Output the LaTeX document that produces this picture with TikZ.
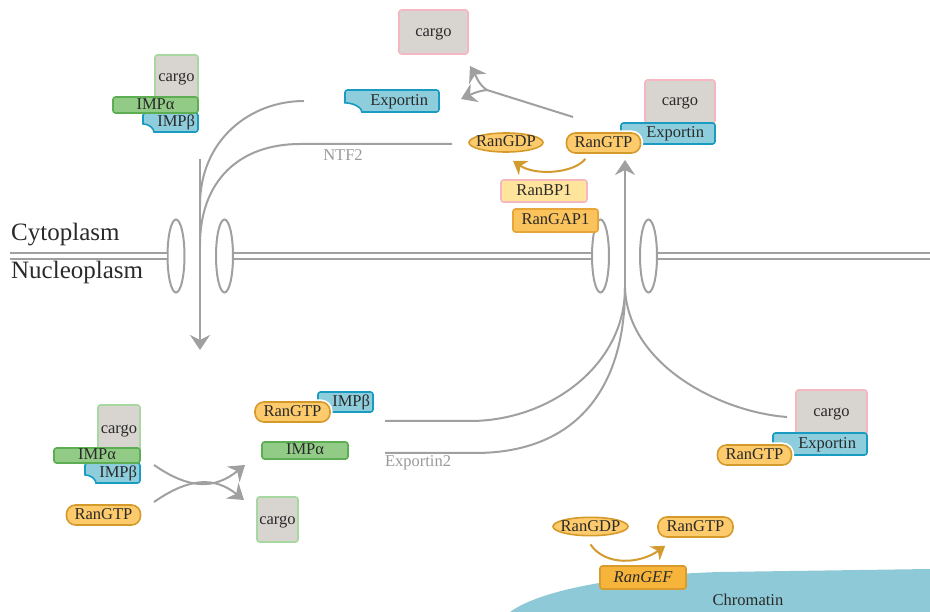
\documentclass[tikz,border=0pt]{standalone}
\usepackage{fontspec}
\setmainfont{Liberation Serif}
\usetikzlibrary{positioning,calc,arrows.meta,shapes.geometric}
\definecolor{ink}{HTML}{2A2A2A}
\definecolor{linegray}{HTML}{A0A0A0}
\definecolor{labelgray}{HTML}{9A9A9A}
\definecolor{cargogray}{HTML}{D8D5D1}
\definecolor{pinkline}{HTML}{F5B7C0}
\definecolor{greenpale}{HTML}{A6D89F}
\definecolor{greenfill}{HTML}{91CB86}
\definecolor{greenline}{HTML}{5DAE52}
\definecolor{cyanfill}{HTML}{8ECEDC}
\definecolor{cyanline}{HTML}{1A9BC2}
\definecolor{ranfill}{HTML}{FDCB6B}
\definecolor{ranline}{HTML}{D59A2C}
\definecolor{ranarrow}{HTML}{D39B2D}
\definecolor{bpfill}{HTML}{FFE59C}
\definecolor{gapfill}{HTML}{FBC35C}
\definecolor{gapline}{HTML}{E8A53A}
\definecolor{geffill}{HTML}{F6B43A}
\definecolor{gefline}{HTML}{D99A2E}
\definecolor{chromatin}{HTML}{8DC9D6}

% cut a concave notch into the lower left corner of a box
\newcommand{\notchcut}[4]{%
  \fill[white] ([shift={(-2pt,-2pt)}]#1.south west) -- ([shift={(-2pt,#4pt)}]#1.south west)
    -- ([yshift=#4pt]#1.south west)
    .. controls ([shift={(0.55*#3pt,#4pt)}]#1.south west) and ([shift={(#3pt,0.5*#4pt)}]#1.south west)
    .. ([xshift=#3pt]#1.south west) -- ([shift={(#3pt,-2pt)}]#1.south west) -- cycle;
  \draw[#2,line width=1.6pt] ([yshift=#4pt]#1.south west)
    .. controls ([shift={(0.55*#3pt,#4pt)}]#1.south west) and ([shift={(#3pt,0.5*#4pt)}]#1.south west)
    .. ([xshift=#3pt]#1.south west);}

\begin{document}
\begin{tikzpicture}[x=1pt,y=-1pt,
  font=\fontsize{16.5}{19}\selectfont,
  box/.style={rounded corners=2.5pt,line width=1.6pt,inner sep=0pt,text=ink,text height=11pt,text depth=2pt},
  cargo/.style={box,fill=cargogray},
  impa/.style={box,fill=greenfill,draw=greenline},
  cyanbox/.style={box,fill=cyanfill,draw=cyanline,align=right},
  ran/.style={box,fill=ranfill,draw=ranline,rounded corners=9pt,minimum width=74pt,minimum height=20pt},
  gdp/.style={ellipse,fill=ranfill,draw=ranline,line width=1.6pt,inner xsep=-4pt,inner ysep=0pt,
              minimum width=74pt,minimum height=19pt,text=ink,text height=11pt,text depth=2pt},
  halo/.style={preaction={draw=white,line width=5pt}},
  pore/.style={ellipse,draw=linegray,line width=2pt,minimum width=17pt,minimum height=73pt,inner sep=0pt},
  membrane/.style={draw=linegray,line width=2pt,double=white,double distance=4.5pt},
  flow/.style={draw=linegray,line width=2pt},
  arr/.style={flow,-{Stealth[length=15pt,width=20pt,inset=5pt]}},
  ranarr/.style={draw=ranarrow,line width=2pt,-{Stealth[length=13pt,width=17pt,inset=4pt]}},
  tag/.style={text=labelgray,inner sep=0pt}]
  \useasboundingbox (0,0) rectangle (930,612);

  % chromatin
  \fill[chromatin] (510,612) .. controls (540,590) and (620,575) .. (720,572) -- (930,569) -- (930,612) -- cycle;
  \node[text=ink] (chrom) at (748,600) {Chromatin};

  % envelope and pores
  \node[pore] (pl1) at (176,256) {};
  \node[pore] (pl2) at (224.5,256) {};
  \node[pore] (pr1) at (600.5,256) {};
  \node[pore] (pr2) at (648.5,256) {};
  \draw[membrane] (10,256) -- (pl1.west);
  \draw[membrane] (pl2.east) -- (pr1.west);
  \draw[membrane] (pr2.east) -- (930,256);
  \node[anchor=base west,inner sep=0pt,text=ink,font=\fontsize{25}{28}\selectfont] (cyto) at (11,241) {Cytoplasm};
  \node[anchor=base west,inner sep=0pt,text=ink,font=\fontsize{25}{28}\selectfont] (nucleo) at (11,279) {Nucleoplasm};

  % import route
  \coordinate (impin) at (200,159);
  \coordinate (impout) at (200,350);
  \coordinate (expback) at (304,101);
  \coordinate (ntfback) at (452,144);
  \coordinate (ntfbend) at (300,144);
  \coordinate (joinA) at (200,205);
  \coordinate (joinB) at (200,245);
  \draw[arr] (impin) -- (impout);
  \draw[flow] (expback) .. controls (250,101) and (200,140) .. (joinA);
  \draw[flow] (ntfback) -- (ntfbend) .. controls (240,144) and (200,180) .. (joinB);
  \node[tag] (ntf) at (343,155) {NTF2};

  % export route
  \coordinate (expin) at (625,288);
  \coordinate (exptip) at (625,160);
  \coordinate (recycA) at (385,421);
  \coordinate (bendA) at (470,421);
  \coordinate (recycB) at (385,453);
  \coordinate (bendB) at (475,453);
  \coordinate (expstart) at (787,417);
  \draw[arr] (expin) -- (exptip);
  \draw[flow] (recycA) -- (bendA) .. controls (550,421) and (625,365) .. (expin);
  \draw[flow] (recycB) -- (bendB) .. controls (575,453) and (625,390) .. (expin);
  \draw[flow] (expstart) .. controls (720,412) and (628,365) .. (expin);
  \node[tag] (exp2) at (418,463) {Exportin2};

  % release in the cytoplasm
  \coordinate (outstart) at (573,117);
  \coordinate (fork) at (487,90);
  \coordinate (tocargo) at (470,66);
  \coordinate (toexp) at (461,99);
  \draw[flow] (outstart) -- (fork);
  \draw[arr] (fork) .. controls (479,85) and (476,76) .. (tocargo);
  \draw[arr] (fork) .. controls (477,91) and (470,95) .. (toexp);

  % release in the nucleus
  \coordinate (mixA) at (154,465);
  \coordinate (mixB) at (154,502);
  \coordinate (outA) at (245,465);
  \coordinate (outB) at (244,500);
  \draw[arr] (mixA) .. controls (190,490) and (215,489) .. (outA);
  \draw[arr] (mixB) .. controls (190,477) and (215,477) .. (outB);

  % import complex, cytoplasm
  \node[cargo,draw=greenpale,minimum width=43pt,minimum height=45pt] (impcargo) at (176.5,77.5) {cargo};
  \node[cyanbox,text width=49pt,inner xsep=3pt,minimum height=19pt] (impbeta) at (170.5,122.5) {IMPβ};
  \notchcut{impbeta}{cyanline}{12}{9}
  \node[impa,minimum width=85pt,minimum height=16pt] (impalpha) at (155.5,105) {IMPα};

  % freed cargo, exportin, Ran cycle
  \node[cargo,draw=pinkline,minimum width=69pt,minimum height=44pt] (cargofree) at (433.5,32) {cargo};
  \node[cyanbox,text width=72pt,inner xsep=11pt,minimum height=22pt] (expfree) at (392,101) {Exportin};
  \notchcut{expfree}{cyanline}{18}{10}
  \node[gdp] (rangdp) at (506,142.5) {RanGDP};
  \node[cargo,draw=pinkline,minimum width=70pt,minimum height=43pt] (expcargo) at (680,101.5) {cargo};
  \node[cyanbox,text width=72pt,inner xsep=11pt,minimum height=21pt] (expbound) at (668,133.5) {Exportin};
  \node[ran,halo] (rangtp) at (603.5,143) {RanGTP};
  \node[box,fill=bpfill,draw=pinkline,minimum width=86pt,minimum height=22pt] (ranbp) at (544,191) {RanBP1};
  \node[box,fill=gapfill,draw=gapline,minimum width=85pt,minimum height=23pt] (rangap) at (555.5,220.5) {RanGAP1};
  \draw[ranarr] ($(rangtp.south)+(-18,5)$) .. controls +(-12,15) and +(22,15) .. ($(rangdp.south)+(7,8)$);

  % import complex, nucleus
  \node[cargo,draw=greenpale,minimum width=42pt,minimum height=48pt] (nuccargo) at (119,429) {cargo};
  \node[cyanbox,text width=49pt,inner xsep=3pt,minimum height=20pt] (nucbeta) at (112.5,473) {IMPβ};
  \notchcut{nucbeta}{cyanline}{12}{9}
  \node[impa,minimum width=86pt,minimum height=15pt] (nucalpha) at (97,455.5) {IMPα};
  \node[ran] (nucgtp) at (103.5,515) {RanGTP};

  % recycled importins
  \node[cyanbox,text width=49pt,inner xsep=3pt,minimum height=20pt] (relbeta) at (345.5,402) {IMPβ};
  \node[ran,halo,minimum width=75pt] (relgtp) at (292.5,412) {RanGTP};
  \node[impa,minimum width=86pt,minimum height=17pt] (relalpha) at (305,450.5) {IMPα};
  \node[cargo,draw=greenpale,minimum width=41pt,minimum height=45pt] (relcargo) at (277.5,519.5) {cargo};

  % export complex, nucleus
  \node[cargo,draw=pinkline,minimum width=71pt,minimum height=45pt] (excargo) at (831.5,412.5) {cargo};
  \node[cyanbox,text width=72pt,inner xsep=11pt,minimum height=22pt] (exbound) at (820,444) {Exportin};
  \node[ran,halo] (exgtp) at (754.5,455) {RanGTP};

  % nucleotide exchange on chromatin
  \node[gdp,minimum width=75pt,minimum height=17pt] (gdpnuc) at (590.5,526.5) {RanGDP};
  \node[ran,minimum width=75pt] (gtpnuc) at (695.5,527) {RanGTP};
  \node[box,fill=geffill,draw=gefline,minimum width=86pt,minimum height=23pt,
        font=\fontsize{16.5}{19}\selectfont\itshape] (rangef) at (643,577.5) {RanGEF};
  \draw[ranarr] ($(gdpnuc.south)+(0,8)$) .. controls +(15,22) and +(-25,18) .. ($(gtpnuc.south west)+(8,8)$);
\end{tikzpicture}
\end{document}
